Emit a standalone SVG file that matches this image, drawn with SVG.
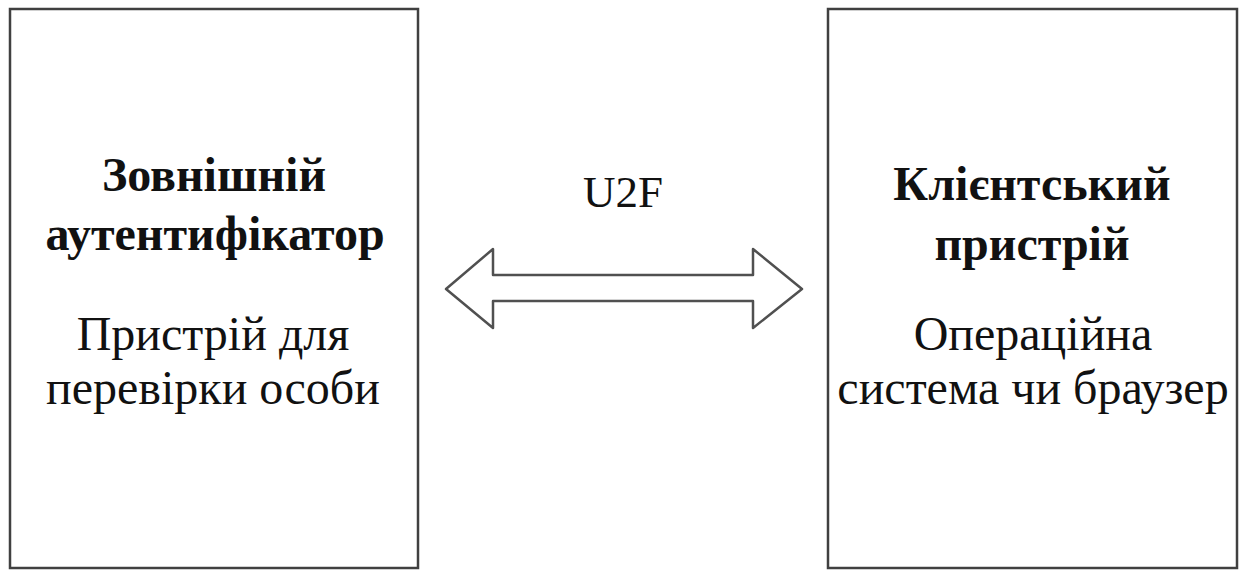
<svg xmlns="http://www.w3.org/2000/svg" width="1243" height="570" viewBox="0 0 1243 570">
<style>
.box{fill:#fff;stroke:#404040;stroke-width:2.5}
.t{font-family:"Liberation Serif","Times New Roman",serif;font-size:48px;fill:#111;text-anchor:middle}
.b{font-weight:bold}
.arrow{fill:#fff;stroke:#505050;stroke-width:2.5;stroke-linejoin:round}
</style>
<rect width="1243" height="570" fill="#fff"/>
<g id="node-authenticator">
<rect class="box" x="10" y="9" width="408" height="559"/>
<text class="t b" x="214" y="191">Зовнішній</text>
<text class="t b" x="215" y="250">аутентифікатор</text>
<text class="t" x="213" y="350">Пристрій для</text>
<text class="t" x="213" y="404">перевірки особи</text>
</g>
<g id="node-client">
<rect class="box" x="828" y="9" width="409" height="559"/>
<text class="t b" x="1032" y="200">Клієнтський</text>
<text class="t b" x="1032" y="260">пристрій</text>
<text class="t" x="1033" y="350">Операційна</text>
<text class="t" x="1033" y="404">система чи браузер</text>
</g>
<g id="connectors">
<path class="arrow" d="M446,289 L493,249 L493,275 L753,275 L753,249 L802,289 L753,328 L753,301 L493,301 L493,328 Z"/>
<text class="t" x="623" y="207" style="font-size:45px">U2F</text>
</g>
</svg>
